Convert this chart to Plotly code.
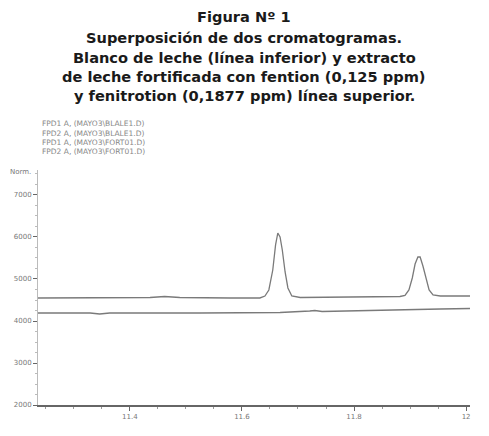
import plotly.graph_objects as go

# Upper trace: fortified milk extract (fention + fenitrotion)
upper_x = [11.236, 11.346, 11.436, 11.462, 11.489, 11.579, 11.632, 11.641, 11.648, 11.655,
           11.660, 11.664, 11.668, 11.672, 11.677, 11.682, 11.689, 11.704, 11.793, 11.882,
           11.891, 11.898, 11.904, 11.909, 11.914, 11.918, 11.923, 11.929, 11.934, 11.941,
           11.954, 12.007]
upper_y = [4548, 4548, 4560, 4583, 4560, 4548, 4548, 4595, 4738, 5214,
           5810, 6095, 6000, 5690, 5167, 4786, 4595, 4560, 4571, 4583,
           4607, 4738, 5024, 5357, 5524, 5524, 5310, 4976, 4738, 4619,
           4595, 4595]

# Lower trace: milk blank
lower_x = [11.236, 11.329, 11.346, 11.364, 11.525, 11.668, 11.721, 11.730, 11.743, 11.846,
           11.954, 12.007]
lower_y = [4190, 4190, 4167, 4190, 4190, 4202, 4238, 4250, 4226, 4262,
           4286, 4298]

x_ticks = [11.4, 11.6, 11.8, 12.0]
x_tick_labels = ["11.4", "11.6", "11.8", "12"]
y_ticks = [2000, 3000, 4000, 5000, 6000, 7000]
y_tick_labels = ["2000", "3000", "4000", "5000", "6000", "7000"]

legend_lines = ["FPD1 A, (MAYO3\\BLALE1.D)",
                "FPD2 A, (MAYO3\\BLALE1.D)",
                "FPD1 A, (MAYO3\\FORT01.D)",
                "FPD2 A, (MAYO3\\FORT01.D)"]

title_lines = ["Figura Nº 1",
               "Superposición de dos cromatogramas.",
               "Blanco de leche (línea inferior) y extracto",
               "de leche fortificada con fention (0,125 ppm)",
               "y fenitrotion (0,1877 ppm) línea superior."]

fig = go.Figure()
fig.add_trace(go.Scatter(x=upper_x, y=upper_y, mode="lines",
                         line=dict(color="#7a7a7a", width=1.3), showlegend=False))
fig.add_trace(go.Scatter(x=lower_x, y=lower_y, mode="lines",
                         line=dict(color="#7a7a7a", width=1.3), showlegend=False))

OFF = 8  # page body margin in the browser
W, H = 489 - OFF, 436 - OFF
ml, mr, mt, mb = 38 - OFF, 19, 170 - OFF, 31

def px(xp):
    return (xp - OFF - ml) / (W - ml - mr)

def py(yp):
    return 1 + (mt - (yp - OFF)) / (H - mt - mb)

fig.update_layout(
    width=W, height=H,
    margin=dict(l=ml, r=mr, t=mt, b=mb, autoexpand=False),
    paper_bgcolor="white", plot_bgcolor="white",
    font=dict(family="DejaVu Sans", color="#222"),
)
fig.update_xaxes(range=[11.236, 12.007], showgrid=False, zeroline=False, automargin=False,
                 showline=True, linecolor="#666", linewidth=1.5,
                 ticks="outside", ticklen=4, tickcolor="#666",
                 tickvals=x_ticks, ticktext=x_tick_labels,
                 tickfont=dict(size=7, color="#777"),
                 minor=dict(dtick=0.05, ticks="outside", ticklen=2, tickcolor="#999"))
fig.update_yaxes(range=[2000, 7595], showgrid=False, zeroline=False, automargin=False,
                 showline=True, linecolor="#bbb", linewidth=1,
                 ticks="outside", ticklen=4, tickcolor="#666",
                 tickvals=y_ticks, ticktext=y_tick_labels,
                 tickfont=dict(size=7, color="#777"),
                 minor=dict(dtick=250, ticks="outside", ticklen=2, tickcolor="#bbb"))

title_y = [17, 37, 57, 76, 95]
for t, yp in zip(title_lines, title_y):
    fig.add_annotation(text="<b>" + t + "</b>", xref="paper", yref="paper",
                       x=px(244), y=py(yp),
                       showarrow=False, xanchor="center", yanchor="middle",
                       font=dict(size=14.6, color="#1a1a1a", family="DejaVu Sans"))

for i, t in enumerate(legend_lines):
    yp = 124 + i * 9
    fig.add_annotation(text=t, xref="paper", yref="paper",
                       x=px(40), y=py(yp),
                       showarrow=False, xanchor="left", yanchor="middle",
                       font=dict(size=7.5, color="#888"))

fig.add_annotation(text="Norm.", xref="paper", yref="paper",
                   x=px(8), y=py(172),
                   showarrow=False, xanchor="left", yanchor="middle",
                   font=dict(size=7, color="#777"))

fig.write_html("out.html")
